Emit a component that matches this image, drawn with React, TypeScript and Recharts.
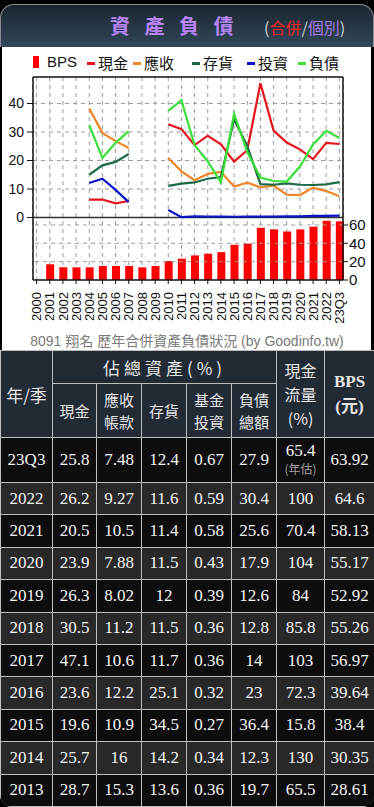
import React from 'react'
import {
  ComposedChart,
  Bar,
  Line,
  XAxis,
  YAxis,
  CartesianGrid,
  ReferenceLine,
} from 'recharts'

const years = [
  '2000', '2001', '2002', '2003', '2004', '2005', '2006', '2007', '2008', '2009', '2010', '2011',
  '2012', '2013', '2014', '2015', '2016', '2017', '2018', '2019', '2020', '2021', '2022', '23Q3',
]
// % of total assets
const cash = [null, null, null, null, 6.3, 6.3, 5.0, 5.8, null, null, 32.7, 31.0, 25.4, 28.7, 25.7, 19.6, 23.6, 47.1, 30.5, 26.3, 23.9, 20.5, 26.2, 25.8]
const receivable = [null, null, null, null, 38.2, 29.7, 26.8, 24.4, null, null, 20.9, 16.2, 13.1, 15.3, 16, 10.9, 12.2, 10.6, 11.2, 8.02, 7.88, 10.5, 9.27, 7.48]
const inventory = [null, null, null, null, 15.0, 18.3, 19.5, 22.3, null, null, 11.1, 11.9, 12.3, 13.6, 14.2, 34.5, 25.1, 11.7, 11.5, 12, 11.5, 11.4, 11.6, 12.4]
const investment = [null, null, null, null, 12.1, 13.6, 9.7, 5.4, null, null, 2.6, 0.1, 0.4, 0.36, 0.34, 0.27, 0.32, 0.36, 0.36, 0.39, 0.43, 0.58, 0.59, 0.67]
const liability = [null, null, null, null, 32.4, 20.9, 26.2, 30.3, null, null, 37.4, 41.2, 25.4, 19.7, 12.3, 36.4, 23, 14, 12.8, 12.6, 17.9, 25.6, 30.4, 27.9]
// BPS (元)
const bps = [null, 17.1, 13.8, 13.8, 13.8, 15.3, 15.3, 15.3, 13.8, 15.3, 20.7, 23.3, 26.8, 28.61, 30.35, 38.4, 39.64, 56.97, 55.26, 52.92, 55.17, 58.13, 64.6, 63.92]
// 現金流量 (%) for 2013 .. 23Q3
const cashFlow = [65.5, 130, 15.8, 72.3, 103, 85.8, 84, 104, 70.4, 100, 65.4]

const pctTicks = [0, 10, 20, 30, 40]
const bpsTicks = [0, 20, 40, 60]

const series = [
  { key: 'cash', name: '現金', color: '#e5141c' },
  { key: 'receivable', name: '應收', color: '#f0862a' },
  { key: 'inventory', name: '存貨', color: '#1d6a45' },
  { key: 'investment', name: '投資', color: '#0a14c8' },
  { key: 'liability', name: '負債', color: '#3be03b' },
]

const data = years.map((year, i) => ({
  year,
  cash: cash[i],
  receivable: receivable[i],
  inventory: inventory[i],
  investment: investment[i],
  liability: liability[i],
  bps: bps[i],
}))

const sansCJK = '"Liberation Sans", Arial, "Noto Sans CJK TC", sans-serif'
const serifCJK = '"Liberation Serif", "Noto Sans CJK TC", serif'

function YearTick(props: any) {
  const { x, y, payload } = props
  return (
    <text
      x={x}
      y={y + 6}
      transform={`rotate(-90 ${x} ${y + 6})`}
      textAnchor="end"
      dy="0.36em"
      fontSize={13}
      fontFamily={sansCJK}
      fill="#111"
    >
      {payload.value}
    </text>
  )
}

function Legend() {
  const lefts = [87, 133, 192, 247, 298]
  return (
    <div
      style={{
        position: 'absolute',
        top: 6,
        left: 0,
        width: 374,
        height: 18,
        fontFamily: sansCJK,
        fontSize: 15,
        color: '#111',
      }}
    >
      <span style={{ position: 'absolute', left: 33, top: 3, width: 6, height: 12, background: '#ff0000' }} />
      <span style={{ position: 'absolute', left: 47, top: 0 }}>BPS</span>
      {series.map((s, i) => (
        <React.Fragment key={s.key}>
          <span
            style={{ position: 'absolute', left: lefts[i], top: 9, width: 8, height: 2.5, background: s.color }}
          />
          <span style={{ position: 'absolute', left: lefts[i] + 11, top: -1 }}>{s.name}</span>
        </React.Fragment>
      ))}
    </div>
  )
}

function Chart() {
  return (
    <ComposedChart
      width={374}
      height={265}
      data={data}
      margin={{ top: 7, right: 3, bottom: 5, left: 8 }}
    >
      <CartesianGrid
        yAxisId="pct"
        horizontal={false}
        strokeDasharray="4 4"
        stroke="#9c9c9c"
      />
      {pctTicks.slice(1).map((t) => (
        <ReferenceLine key={'p' + t} yAxisId="pct" y={t} stroke="#9c9c9c" strokeDasharray="4 4" />
      ))}
      {bpsTicks.slice(1).map((t) => (
        <ReferenceLine key={'b' + t} yAxisId="bps" y={t} stroke="#9c9c9c" strokeDasharray="4 4" />
      ))}
      <ReferenceLine yAxisId="pct" y={0} stroke="#333" strokeWidth={1.5} />
      <ReferenceLine yAxisId="pct" y={49.3} stroke="#111" strokeWidth={1.5} ifOverflow="visible" />
      <XAxis
        dataKey="year"
        interval={0}
        height={50}
        padding={{ left: -3, right: -3 }}
        tick={<YearTick />}
        tickSize={4}
        tickLine={{ stroke: '#111' }}
        axisLine={{ stroke: '#111', strokeWidth: 1.5 }}
      />
      <YAxis
        yAxisId="pct"
        orientation="left"
        width={25}
        domain={[-21.93, 49.3]}
        ticks={pctTicks}
        interval={0}
        allowDataOverflow
        tickSize={6}
        tickMargin={3}
        tick={{ fontSize: 14, fill: '#111', fontFamily: sansCJK }}
        tickLine={{ stroke: '#111' }}
        axisLine={{ stroke: '#111', strokeWidth: 1.5 }}
      />
      <YAxis
        yAxisId="bps"
        orientation="right"
        width={28}
        domain={[0, 221.4]}
        ticks={bpsTicks}
        interval={0}
        allowDataOverflow
        tickSize={5}
        tickMargin={1}
        tick={{ fontSize: 15, fill: '#111', fontFamily: sansCJK }}
        tickLine={{ stroke: '#111' }}
        axisLine={{ stroke: '#111', strokeWidth: 1.5 }}
      />
      <Bar yAxisId="bps" dataKey="bps" fill="#ff0000" barSize={8} isAnimationActive={false} />
      {series.map((s) => (
        <Line
          key={s.key}
          yAxisId="pct"
          type="linear"
          dataKey={s.key}
          stroke={s.color}
          strokeWidth={2.2}
          dot={false}
          activeDot={false}
          isAnimationActive={false}
        />
      ))}
    </ComposedChart>
  )
}

const colW = [52, 44, 45, 45, 45, 45, 48, 50]

const th: React.CSSProperties = {
  background: '#222a33',
  color: '#e6e6e6',
  border: '1px solid #bdbdbd',
  fontFamily: '"Noto Sans CJK TC", sans-serif',
  fontWeight: 400,
  fontSize: 17,
  textAlign: 'center',
  padding: 0,
  lineHeight: '25px',
}

const sub: React.CSSProperties = { ...th, fontSize: 15, lineHeight: '22px' }

function Table() {
  const rows = []
  for (let i = years.length - 1; i >= 13; i--) {
    rows.push({
      year: years[i],
      vals: [cash[i], receivable[i], inventory[i], investment[i], liability[i]],
      flow: cashFlow[i - 13],
      bps: bps[i],
      first: i === years.length - 1,
    })
  }
  return (
    <div
      style={{
        position: 'absolute',
        top: 350,
        left: 0,
        width: 374,
        height: 457,
        overflow: 'hidden',
        borderRadius: '0 0 12px 12px',
        boxShadow: 'inset 0 -2px 0 #8c8c8c',
      }}
    >
      <table style={{ borderCollapse: 'collapse', tableLayout: 'fixed', width: 374 }}>
        <colgroup>
          {colW.map((w, i) => (
            <col key={i} style={{ width: w }} />
          ))}
        </colgroup>
        <thead>
          <tr style={{ height: 33 }}>
            <th rowSpan={2} style={th}>年/季</th>
            <th colSpan={5} style={{ ...th, letterSpacing: 4 }}>佔總資產(%)</th>
            <th rowSpan={2} style={{ ...th, fontSize: 16, lineHeight: '24px' }}>
              現金<br />流量<br />(%)
            </th>
            <th rowSpan={2} style={{ ...th, fontFamily: serifCJK, fontWeight: 700, lineHeight: '25px' }}>
              BPS<br />(元)
            </th>
          </tr>
          <tr style={{ height: 54 }}>
            <th style={sub}>現金</th>
            <th style={sub}>應收<br />帳款</th>
            <th style={sub}>存貨</th>
            <th style={sub}>基金<br />投資</th>
            <th style={sub}>負債<br />總額</th>
          </tr>
        </thead>
        <tbody>
          {rows.map((r, k) => {
            const bg = k % 2 === 0 ? '#0d0d0d' : '#282828'
            const td: React.CSSProperties = {
              background: bg,
              color: '#f4f4f4',
              border: '1px solid #bdbdbd',
              fontFamily: serifCJK,
              fontSize: 17,
              textAlign: 'center',
              padding: 0,
            }
            return (
              <tr key={r.year} style={{ height: r.first ? 45 : 32.4 }}>
                <td style={td}>{r.year}</td>
                {r.vals.map((v, j) => (
                  <td key={j} style={td}>{String(v)}</td>
                ))}
                <td style={{ ...td, lineHeight: '18px' }}>
                  {String(r.flow)}
                  {r.first && (
                    <div style={{ fontSize: 12, color: '#a0a0a0', fontFamily: '"Noto Sans CJK TC", sans-serif' }}>
                      (年估)
                    </div>
                  )}
                </td>
                <td style={td}>{String(r.bps)}</td>
              </tr>
            )
          })}
        </tbody>
      </table>
    </div>
  )
}

export default function App() {
  return (
    <div
      style={{
        position: 'absolute',
        left: 0,
        top: 0,
        width: 374,
        height: 807,
        background: '#000',
        overflow: 'hidden',
      }}
    >
      {/* header */}
      <div
        style={{
          position: 'absolute',
          left: 0,
          top: 4,
          width: 372,
          height: 43,
          borderTop: '1px solid #8c8c8c',
          borderLeft: '1px solid #8c8c8c',
          borderRight: '1px solid #8c8c8c',
          borderRadius: '14px 14px 0 0',
          background: 'linear-gradient(#1a2430, #33485a)',
        }}
      >
        <span
          style={{
            position: 'absolute',
            left: 109,
            top: 9,
            fontFamily: '"Noto Sans CJK TC", sans-serif',
            fontSize: 20,
            fontWeight: 700,
            letterSpacing: 14.5,
            color: '#b585f5',
            lineHeight: '24px',
          }}
        >
          資產負債
        </span>
        <span
          style={{
            position: 'absolute',
            left: 263,
            top: 12,
            fontFamily: '"Noto Sans CJK TC", sans-serif',
            fontSize: 16,
            color: '#d0d0d0',
            lineHeight: '20px',
          }}
        >
          (<span style={{ color: '#e8262a' }}>合併</span>/<span style={{ color: '#a77de6' }}>個別</span>)
        </span>
      </div>
      {/* chart panel */}
      <div
        style={{
          position: 'absolute',
          left: 0,
          top: 47,
          width: 374,
          height: 303,
          background: '#fff',
          boxShadow: 'inset 2px 0 0 #000, inset -3px 0 0 #000',
        }}
      >
        <Legend />
        <div style={{ position: 'absolute', left: 0, top: 23 }}>
          <Chart />
        </div>
        <div
          style={{
            position: 'absolute',
            left: 0,
            top: 283,
            width: 374,
            textAlign: 'center',
            fontFamily: sansCJK,
            fontSize: 14,
            color: '#7a7a7a',
          }}
        >
          8091 翔名 歷年合併資產負債狀況 (by Goodinfo.tw)
        </div>
      </div>
      <Table />
    </div>
  )
}
